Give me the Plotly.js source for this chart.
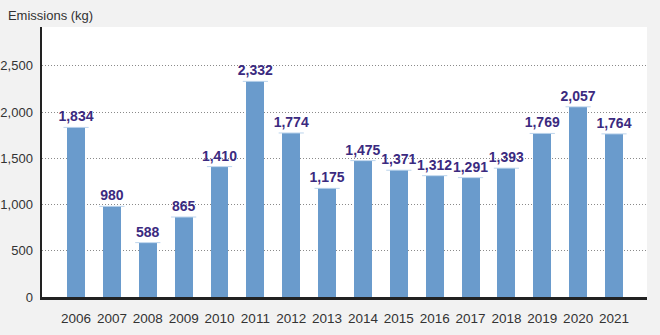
<!DOCTYPE html>
<html>
<head>
<meta charset="utf-8">
<script src="https://cdn.plot.ly/plotly-3.0.1.min.js"></script>
<style>html,body{margin:0;padding:0;background:#f2f2f2;}#chart{width:660px;height:335px;}</style>
</head>
<body>
<div id="chart"></div>
<script>
const years = [2006, 2007, 2008, 2009, 2010, 2011, 2012, 2013, 2014, 2015, 2016, 2017, 2018, 2019, 2020, 2021];
const emissions = [1834, 980, 588, 865, 1410, 2332, 1774, 1175, 1475, 1371, 1312, 1291, 1393, 1769, 2057, 1764];
const yTicks = [0, 500, 1000, 1500, 2000, 2500];
const yTickLabels = ['0', '500', '1,000', '1,500', '2,000', '2,500'];
const yTitle = 'Emissions (kg)';

const font = '"Liberation Sans", Arial, Helvetica, sans-serif';

const bars = {
  type: 'bar',
  x: years,
  y: emissions,
  width: 0.5,
  marker: {color: '#6a9bcc', line: {width: 0}},
  text: emissions.map(v => v.toLocaleString('en-US')),
  textposition: 'outside',
  constraintext: 'none',
  textfont: {family: font, size: 14, color: '#3b2a80', weight: 'bold'},
  cliponaxis: false,
  hoverinfo: 'skip'
};
const caps = {
  type: 'scatter',
  mode: 'markers',
  x: years,
  y: emissions,
  marker: {symbol: 'line-ew', size: 18, line: {color: '#bcd4ec', width: 1}},
  hoverinfo: 'skip',
  showlegend: false
};

const layout = {
  width: 660, height: 335,
  margin: {l: 42, r: 13, t: 27, b: 38},
  paper_bgcolor: '#f2f2f2',
  plot_bgcolor: '#ffffff',
  showlegend: false,
  font: {family: font, size: 13, color: '#333333'},
  title: {text: yTitle, x: 0.012, xanchor: 'left', xref: 'container', y: 0.955, yanchor: 'middle', yref: 'container',
          font: {family: font, size: 13, color: '#333333'}},
  xaxis: {
    range: [2005.05, 2021.92],
    tickvals: years,
    ticktext: years.map(String),
    showgrid: false, zeroline: false,
    showline: true, linecolor: '#222222', linewidth: 2.5,
    ticks: '', ticklabelstandoff: 7,
    tickfont: {family: font, size: 13.5, color: '#333333'},
    fixedrange: true
  },
  yaxis: {
    range: [0, 2920],
    tickvals: yTicks,
    ticktext: yTickLabels,
    showgrid: true, gridcolor: '#8a8a8a', griddash: '1px,2px', gridwidth: 1,
    zeroline: false,
    showline: true, linecolor: '#222222', linewidth: 2.5,
    ticks: '', ticklabelstandoff: 4,
    tickfont: {family: font, size: 13, color: '#333333'},
    fixedrange: true
  },
  bargap: 0
};

Plotly.newPlot('chart', [bars, caps], layout, {displayModeBar: false, staticPlot: true});
</script>
</body>
</html>
